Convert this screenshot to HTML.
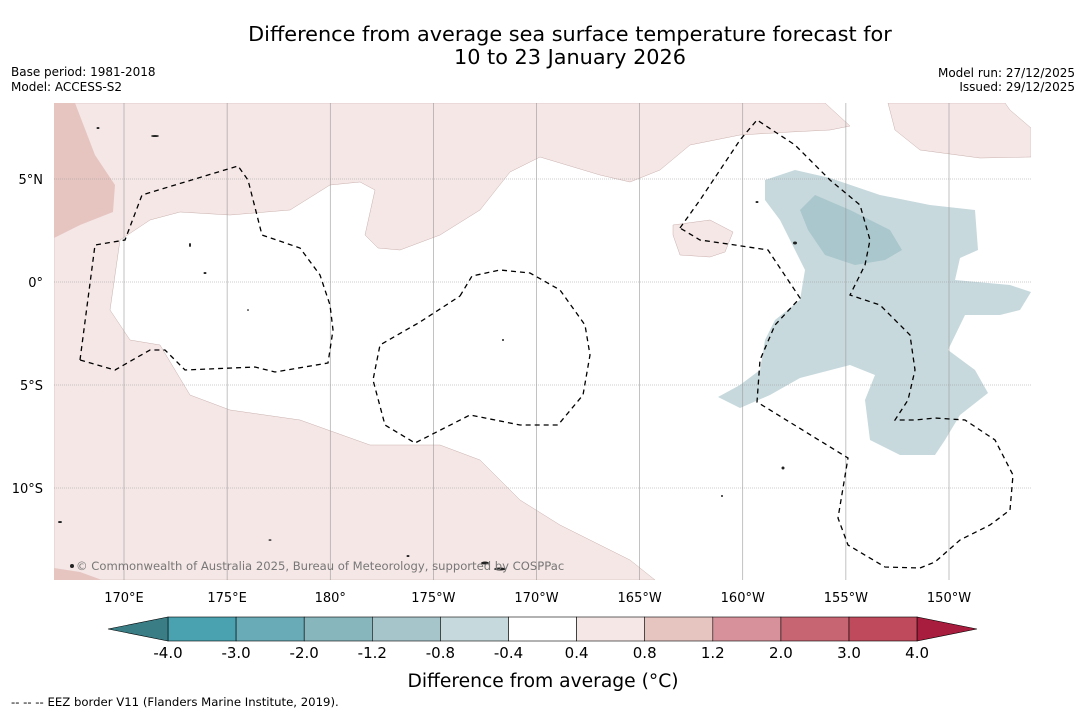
<!DOCTYPE html>
<html><head><meta charset="utf-8"><style>
body{margin:0;background:#fff;font-family:"DejaVu Sans","Liberation Sans",sans-serif}
svg{display:block}
</style></head><body>
<svg id="chart" width="1085" height="713" viewBox="0 0 1085 713" font-family="DejaVu Sans, Liberation Sans, sans-serif">
<rect width="1085" height="713" fill="#fff"/>
<text x="570" y="41" font-size="20.8" text-anchor="middle">Difference from average sea surface temperature forecast for</text>
<text x="570" y="64" font-size="20.8" text-anchor="middle">10 to 23 January 2026</text>
<text x="11" y="76" font-size="12">Base period: 1981-2018</text>
<text x="11" y="91" font-size="12">Model: ACCESS-S2</text>
<text x="1075" y="77" font-size="12" text-anchor="end">Model run: 27/12/2025</text>
<text x="1075" y="91" font-size="12" text-anchor="end">Issued: 29/12/2025</text>
<defs><clipPath id="mapclip"><rect x="54" y="103" width="977" height="477"/></clipPath></defs>
<g id="map" clip-path="url(#mapclip)">
<polygon fill="#f5e7e6" stroke="#c8b0ad" stroke-width="0.5" points="54,103 825,103 850,126 830,130 790,132 740,135 690,145 660,170 630,182 600,175 540,157 510,172 480,210 440,235 400,250 378,248 365,235 375,190 360,182 330,185 290,210 230,215 180,212 150,220 120,240 110,310 130,340 160,345 190,395 230,410 300,420 370,445 440,445 480,460 520,500 560,525 600,545 630,560 655,580 54,580"/>
<polygon fill="#f5e7e6" stroke="#c8b0ad" stroke-width="0.5" points="888,103 895,130 920,150 980,158 1031,157 1031,128 1010,110 1005,103"/>
<polygon fill="#f5e7e6" stroke="#c8b0ad" stroke-width="0.5" points="673,225 710,220 733,232 725,252 710,257 680,255 673,235"/>
<polygon fill="#e6c5c1" points="54,103 75,103 95,155 115,185 113,212 80,225 54,238"/>
<polygon fill="#e6c5c1" points="54,568 80,572 102,580 54,580"/>
<polygon fill="#c7d9dd" points="765,180 795,170 830,178 880,195 930,205 975,210 978,250 960,258 955,280 1010,285 1031,292 1020,310 1000,315 965,315 948,350 975,370 988,393 960,415 945,440 935,455 900,455 870,440 865,400 875,375 850,365 800,378 770,395 740,408 718,397 740,385 760,370 765,340 775,320 800,300 805,270 790,240 780,220 765,200"/>
<polygon fill="#a9c7cc" points="800,210 815,195 850,210 890,230 902,250 885,260 855,265 825,255 808,230"/>
<g id="grid" stroke="#999" stroke-width="0.6"></g>
<g fill="none" stroke="#000" stroke-width="1.3" stroke-dasharray="5,4">
<polyline points="80,360 95,245 125,240 142,195 175,185 238,166 248,180 262,235 300,248 320,275 330,305 333,330 328,363 275,372 255,367 185,370 165,350 150,350 115,370 80,360"/>
<polyline points="460,296 472,276 500,270 530,273 560,290 585,325 590,355 583,395 558,425 520,425 470,415 415,443 385,425 373,380 380,345 420,322 460,296"/>
<polyline points="680,228 700,200 740,140 757,120 795,145 830,180 860,205 870,240 865,265 850,295 880,305 910,335 915,370 908,400 895,420 915,420 935,418 965,420 995,440 1013,475 1010,510 990,525 960,540 935,562 920,568 885,567 848,545 838,518 848,458 757,402 760,360 775,325 800,298 768,250 735,245 700,240 680,228"/>
</g>
<g fill="#222">
<ellipse cx="155" cy="136" rx="4" ry="1"/><ellipse cx="98" cy="128" rx="1.5" ry="1"/><ellipse cx="190" cy="245" rx="1" ry="2"/><ellipse cx="205" cy="273" rx="1.5" ry="1"/><ellipse cx="248" cy="310" rx="1" ry="0.8"/><ellipse cx="795" cy="243" rx="2" ry="1.5"/><ellipse cx="757" cy="202" rx="1.5" ry="1"/><ellipse cx="500" cy="569" rx="6" ry="1.5"/><ellipse cx="485" cy="563" rx="4" ry="1.5"/><ellipse cx="60" cy="522" rx="2" ry="1"/><ellipse cx="72" cy="566" rx="2" ry="2"/><ellipse cx="503" cy="340" rx="1" ry="1"/><ellipse cx="783" cy="468" rx="1.5" ry="1.5"/><ellipse cx="722" cy="496" rx="1" ry="1"/><ellipse cx="408" cy="556" rx="1.5" ry="1"/><ellipse cx="270" cy="540" rx="1.5" ry="0.8"/>
</g>
<text x="76" y="570" font-size="11.6" fill="#777">© Commonwealth of Australia 2025, Bureau of Meteorology, supported by COSPPac</text>
</g>
<g id="axes"></g>
<g id="colorbar"></g>
<text x="543" y="687" font-size="18.7" text-anchor="middle">Difference from average (°C)</text>
<text x="11" y="706" font-size="11.7">--  --  -- EEZ border V11 (Flanders Marine Institute, 2019).</text>
</svg>
<script>
const lonTicks=[170,175,180,185,190,195,200,205,210];
const lonLabels=["170°E","175°E","180°","175°W","170°W","165°W","160°W","155°W","150°W"];
const latTicks=[5,0,-5,-10];
const latLabels=["5°N","0°","5°S","10°S"];
const cbLevels=["-4.0","-3.0","-2.0","-1.2","-0.8","-0.4","0.4","0.8","1.2","2.0","3.0","4.0"];
const cbColors=["#4aa2b1","#6aabb8","#88b6bd","#a6c5ca","#c6d9dc","#ffffff","#f5e7e6","#e6c5c1","#d6919a","#c86573","#bf4a5c"];
const cbLow="#3a7d85", cbHigh="#a81c3d";
const NS="http://www.w3.org/2000/svg";
const xLon=l=>124+(l-170)*20.625;
const yLat=l=>282-l*20.6;
function mk(tag,attrs,parent){const e=document.createElementNS(NS,tag);for(const k in attrs)e.setAttribute(k,attrs[k]);parent.appendChild(e);return e;}
const grid=document.getElementById('grid'),axes=document.getElementById('axes'),cb=document.getElementById('colorbar');
lonTicks.forEach((l,i)=>{
 const ln=mk('line',{x1:xLon(l),x2:xLon(l),y1:103,y2:580},grid);
 
 
 const t=mk('text',{x:xLon(l),y:602,'font-size':13,'text-anchor':'middle'},axes);t.textContent=lonLabels[i];
 
 
});
latTicks.forEach((l,i)=>{
 const ln=mk('line',{x1:54,x2:1031,y1:yLat(l),y2:yLat(l),'stroke-dasharray':'1,1'},grid);
 
 
 const t=mk('text',{x:43,y:yLat(l)+5,'font-size':13,'text-anchor':'end'},axes);t.textContent=latLabels[i];
 
 
});
const x0=168,w=68.1,y0=617,h=24;
cbColors.forEach((c,i)=>{
 const r=mk('rect',{x:x0+i*w,y:y0,width:w,height:h,fill:c,stroke:'#000','stroke-width':0.6},cb);
 
 
});
const xEnd=x0+cbColors.length*w;
const lt=mk('polygon',{points:`108,${y0+h/2} ${x0},${y0} ${x0},${y0+h}`,fill:cbLow,stroke:'#000','stroke-width':0.6},cb);


const ht=mk('polygon',{points:`${xEnd},${y0} ${xEnd},${y0+h} 977,${y0+h/2}`,fill:cbHigh,stroke:'#000','stroke-width':0.6},cb);


cbLevels.forEach((v,i)=>{
 const t=mk('text',{x:x0+i*w,y:658,'font-size':15,'text-anchor':'middle'},cb);t.textContent=v;
 
 
});
</script>
</body></html>
